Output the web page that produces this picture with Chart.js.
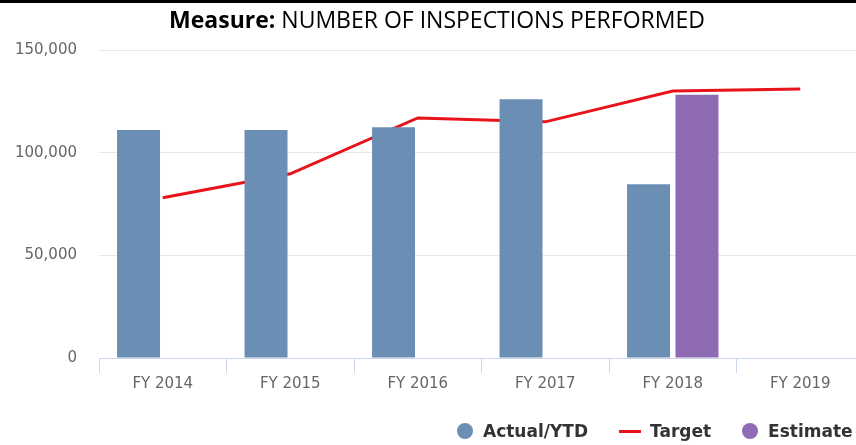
<!DOCTYPE html>
<html>
<head>
<meta charset="utf-8">
<script src="https://cdn.jsdelivr.net/npm/chart.js@4.4.0/dist/chart.umd.min.js"></script>
<style>
    html, body { margin: 0; padding: 0; background: #fff; overflow: hidden; }
    .wrap { position: relative; width: 856px; height: 445px; overflow: hidden; }
    .graphic { position: absolute; left: 0; top: 0; width: 872px; height: 445px; }
    .topline { position: absolute; left: 0; top: 0; width: 856px; height: 3px; background: #000; }
    .title { position: absolute; left: 0; top: 3px; width: 874px; text-align: center;
             font: 23px 'Open Sans', sans-serif; color: #000; white-space: nowrap; }
    .title b { font-weight: 700; }
    .legend { position: absolute; left: 457px; top: 421px; display: flex; align-items: center;
              font: bold 17px 'DejaVu Sans', sans-serif; color: #333; white-space: nowrap; }
    .legend .item { display: flex; align-items: center; margin-right: 31px; }
    .legend .dot { width: 16px; height: 16px; border-radius: 50%; margin-right: 10px; }
    .legend .dash { width: 22px; height: 3px; margin-right: 9px; }
</style>
</head>
<body>
<div class="wrap">
    <div class="graphic"><canvas id="myChart" width="872" height="445"></canvas></div>
    <div class="topline"></div>
    <div class="title"><b>Measure:</b> NUMBER OF INSPECTIONS PERFORMED</div>
    <div class="legend"></div>
</div>
<script>
const categories = ['FY 2014', 'FY 2015', 'FY 2016', 'FY 2017', 'FY 2018', 'FY 2019'];
const actualValues = [111000, 111000, 112400, 126000, 84600, null];
const targetValues = [78000, 89700, 116900, 115000, 130000, 131000];
const estimateValues = [null, null, null, null, 128200, null];
const yTicks = [0, 50000, 100000, 150000];

const blue = '#6b8eb4';
const red = '#e8141c';
const purple = '#8e6bb2';

function drawGraphic () {
    const data = {
        labels: categories,
        datasets: [{
            type: 'bar',
            label: 'Actual/YTD',
            backgroundColor: blue,
            data: actualValues,
            order: 1
        }, {
            type: 'line',
            label: 'Target',
            borderColor: red,
            backgroundColor: red,
            borderWidth: 3,
            pointRadius: 0,
            tension: 0,
            data: targetValues,
            order: 2
        }, {
            type: 'bar',
            label: 'Estimate',
            backgroundColor: purple,
            data: estimateValues,
            order: 1
        }]
    };

    const config = {
        type: 'bar',
        data,
        options: {
            responsive: false,
            animation: false,
            devicePixelRatio: 1,
            categoryPercentage: 0.76,
            barPercentage: 0.887,
            layout: { padding: { top: 50, right: 8, left: 0, bottom: 50 } },
            plugins: {
                legend: { display: false },
                tooltip: { enabled: false }
            },
            scales: {
                x: {
                    grid: { display: true, drawOnChartArea: false, drawTicks: true, tickLength: 15, color: '#ccd6eb', offset: true },
                    border: { color: '#ccd6eb' },
                    ticks: { padding: 2, color: '#666', font: { family: 'DejaVu Sans', size: 15 } }
                },
                y: {
                    min: yTicks[0],
                    max: yTicks[yTicks.length - 1],
                    afterBuildTicks: scale => { scale.ticks = yTicks.map(v => ({ value: v })); },
                    afterFit: scale => { scale.width = 99; },
                    grid: { color: '#e6e6e6', drawTicks: false },
                    border: { display: false },
                    ticks: {
                        padding: 22,
                        color: '#666',
                        font: { family: 'DejaVu Sans', size: 15 },
                        callback: v => v.toLocaleString('en-US')
                    }
                }
            }
        }
    };

    return new Chart(document.getElementById('myChart'), config);
}

const myChart = drawGraphic();

// legend made from the datasets
const legend = document.querySelector('.legend');
myChart.data.datasets.forEach(ds => {
    const item = document.createElement('div');
    item.className = 'item';
    const mark = document.createElement('span');
    mark.className = ds.type === 'line' ? 'dash' : 'dot';
    mark.style.background = ds.type === 'line' ? ds.borderColor : ds.backgroundColor;
    const text = document.createElement('span');
    text.textContent = ds.label;
    item.appendChild(mark);
    item.appendChild(text);
    legend.appendChild(item);
});
</script>
</body>
</html>
